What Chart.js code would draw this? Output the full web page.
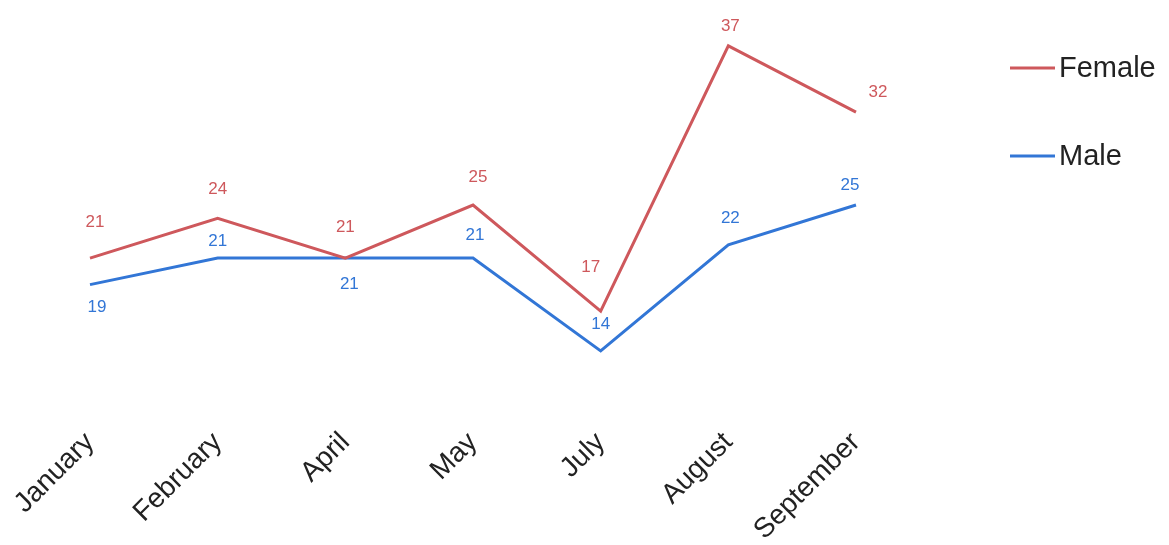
<!DOCTYPE html>
<html>
<head>
<meta charset="utf-8">
<script src="https://cdn.jsdelivr.net/npm/chart.js@4/dist/chart.umd.min.js"></script>
<style>
  html, body { margin: 0; padding: 0; background: #fff; }
  #wrap { width: 1169px; height: 545px; position: relative; }
</style>
</head>
<body>
<div id="wrap"><canvas id="myChart"></canvas></div>
<script>
// chart data
const months = ['January', 'February', 'April', 'May', 'July', 'August', 'September'];
const femaleValues = [21, 24, 21, 25, 17, 37, 32];
const maleValues = [19, 21, 21, 21, 14, 22, 25];

const femaleColor = 'rgb(206, 88, 92)';
const maleColor = 'rgb(50, 118, 214)';

// where each value label sits relative to its point (px)
const labelShift = {
    Female: [[5, -37], [0, -30], [0, -32], [5, -29], [-10, -45], [2, -20], [22, -21]],
    Male: [[7, 22], [0, -18], [4, 25], [2, -24], [0, -28], [2, -27], [-6, -21]]
};

const valueLabels = {
    id: 'valueLabels',
    afterDatasetsDraw(chart){
        const ctx = chart.ctx;
        ctx.save();
        ctx.font = '17px "Liberation Sans", Arial, sans-serif';
        ctx.textAlign = 'center';
        ctx.textBaseline = 'middle';
        chart.data.datasets.forEach((ds, i) => {
            const meta = chart.getDatasetMeta(i);
            const shifts = labelShift[ds.label];
            ctx.fillStyle = ds.borderColor;
            meta.data.forEach((pt, j) => {
                ctx.fillText(String(ds.data[j]), pt.x + shifts[j][0], pt.y + shifts[j][1] + 1);
            });
        });
        ctx.restore();
    }
};

const sideLegend = {
    id: 'sideLegend',
    afterDraw(chart){
        const ctx = chart.ctx;
        const x = chart.width - 159;
        let y = 68;
        ctx.save();
        ctx.font = '29px "Liberation Sans", Arial, sans-serif';
        ctx.textBaseline = 'middle';
        chart.data.datasets.forEach(ds => {
            ctx.strokeStyle = ds.borderColor;
            ctx.lineWidth = 3;
            ctx.beginPath();
            ctx.moveTo(x, y);
            ctx.lineTo(x + 45, y);
            ctx.stroke();
            ctx.fillStyle = '#222';
            ctx.fillText(ds.label, x + 49, y + 1);
            y += 88;
        });
        ctx.restore();
    }
};

const config = {
    type: 'line',
    data: {
        labels: months,
        datasets: [
            {
                label: 'Female',
                data: femaleValues,
                borderColor: femaleColor,
                backgroundColor: femaleColor,
                borderWidth: 3,
                pointRadius: 0,
                tension: 0
            },
            {
                label: 'Male',
                data: maleValues,
                borderColor: maleColor,
                backgroundColor: maleColor,
                borderWidth: 3,
                pointRadius: 0,
                tension: 0
            }
        ]
    },
    options: {
        responsive: true,
        maintainAspectRatio: false,
        animation: false,
        events: [],
        layout: {
            padding: { left: 90, right: 313, top: 6, bottom: 0 }
        },
        plugins: {
            legend: { display: false },
            tooltip: { enabled: false }
        },
        scales: {
            x: {
                offset: false,
                grid: { display: false },
                border: { display: false },
                ticks: {
                    color: '#222',
                    font: { family: '"Liberation Sans", Arial, sans-serif', size: 28 },
                    minRotation: 45,
                    maxRotation: 45,
                    padding: 14,
                    autoSkip: false
                },
                afterFit(scale){
                    scale.height = 141;
                }
            },
            y: {
                display: false,
                min: 10,
                max: 40
            }
        }
    },
    plugins: [valueLabels, sideLegend]
};

new Chart(document.getElementById('myChart'), config);
</script>
</body>
</html>
